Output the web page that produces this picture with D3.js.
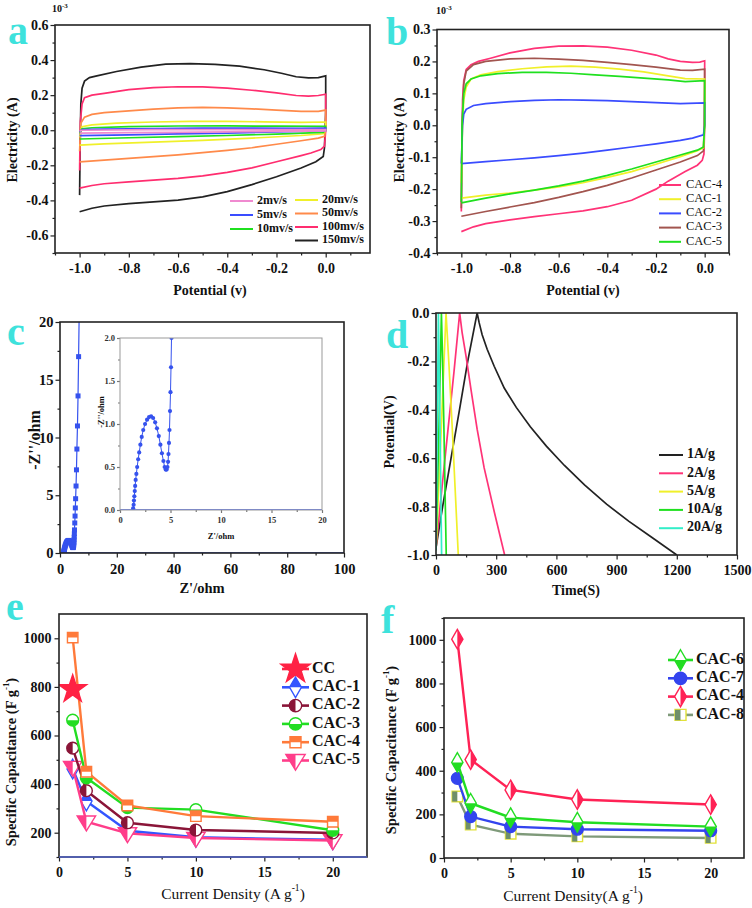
<!DOCTYPE html>
<html>
<head>
<meta charset="utf-8">
<script src="https://cdn.jsdelivr.net/npm/d3@7"></script>
<style>
  body { margin: 0; background: #fff; }
  svg { display: block; }
  text { font-family: "Liberation Serif", "Times New Roman", serif; }
</style>
</head>
<body>
<svg id="fig" width="752" height="908"></svg>
<script>
// ---------- panel a: CV curves at different scan rates (current, 1e-3 A)
const scanLabels = ["2mv/s", "5mv/s", "10mv/s", "20mv/s", "50mv/s", "100mv/s", "150mv/s"];
const scanColors = ["#f08ad0", "#3a4cff", "#1fe01f", "#f0f02a", "#ff8a4a", "#ff2d6f", "#222222"];
const cv2 = [[-1.0,-0.005],[-0.99,0.0],[-0.7,0.003],[-0.4,0.004],[-0.1,0.003],[0.0,0.004],[0.0,-0.004],[-0.3,-0.008],[-0.6,-0.012],[-0.8,-0.014],[-1.0,-0.017]];
const cv5 = [[-1.0,-0.01],[-0.99,0.003],[-0.9,0.006],[-0.7,0.01],[-0.5,0.012],[-0.3,0.012],[-0.1,0.011],[0.0,0.012],[0.0,-0.002],[-0.2,-0.01],[-0.4,-0.016],[-0.6,-0.021],[-0.8,-0.026],[-1.0,-0.031]];
const cv10 = [[-1.0,-0.02],[-0.99,0.008],[-0.95,0.014],[-0.8,0.02],[-0.6,0.024],[-0.4,0.025],[-0.2,0.023],[0.0,0.022],[0.0,0.0],[-0.01,-0.012],[-0.2,-0.022],[-0.4,-0.03],[-0.6,-0.037],[-0.8,-0.043],[-1.0,-0.05]];
const cv20 = [[-1.0,-0.04],[-0.99,0.02],[-0.95,0.03],[-0.85,0.04],[-0.7,0.047],[-0.55,0.05],[-0.4,0.05],[-0.25,0.048],[-0.1,0.045],[0.0,0.047],[0.0,0.0],[-0.01,-0.02],[-0.1,-0.03],[-0.3,-0.045],[-0.5,-0.058],[-0.7,-0.068],[-0.9,-0.078],[-1.0,-0.085]];
const cv50 = [[-1.0,-0.12],[-0.995,0.04],[-0.98,0.075],[-0.95,0.09],[-0.9,0.1],[-0.8,0.11],[-0.7,0.12],[-0.6,0.128],[-0.5,0.13],[-0.4,0.128],[-0.3,0.122],[-0.2,0.115],[-0.1,0.108],[-0.03,0.108],[0.0,0.115],[0.0,0.0],[-0.005,-0.035],[-0.03,-0.045],[-0.1,-0.06],[-0.2,-0.08],[-0.3,-0.1],[-0.4,-0.115],[-0.5,-0.128],[-0.6,-0.14],[-0.7,-0.15],[-0.8,-0.16],[-0.9,-0.17],[-1.0,-0.18]];
const cv100 = [[-1.0,-0.23],[-0.997,0.05],[-0.99,0.15],[-0.98,0.185],[-0.95,0.2],[-0.9,0.21],[-0.8,0.232],[-0.7,0.243],[-0.6,0.248],[-0.5,0.247],[-0.4,0.24],[-0.3,0.228],[-0.2,0.213],[-0.12,0.198],[-0.07,0.195],[-0.03,0.198],[0.0,0.205],[0.0,0.0],[-0.005,-0.09],[-0.02,-0.11],[-0.06,-0.13],[-0.1,-0.145],[-0.2,-0.18],[-0.3,-0.215],[-0.4,-0.24],[-0.5,-0.26],[-0.6,-0.275],[-0.7,-0.285],[-0.8,-0.295],[-0.9,-0.305],[-0.95,-0.315],[-1.0,-0.33]];
const cv150 = [[-1.0,-0.37],[-0.998,-0.1],[-0.995,0.15],[-0.99,0.24],[-0.98,0.28],[-0.96,0.3],[-0.93,0.31],[-0.85,0.335],[-0.75,0.36],[-0.65,0.377],[-0.55,0.38],[-0.45,0.375],[-0.35,0.365],[-0.25,0.345],[-0.18,0.325],[-0.12,0.305],[-0.07,0.298],[-0.03,0.3],[0.0,0.31],[0.0,0.1],[-0.005,-0.1],[-0.01,-0.15],[-0.04,-0.18],[-0.1,-0.215],[-0.2,-0.265],[-0.3,-0.31],[-0.4,-0.35],[-0.5,-0.38],[-0.6,-0.398],[-0.7,-0.408],[-0.8,-0.418],[-0.9,-0.432],[-0.95,-0.445],[-1.0,-0.465]];
const potentialMajor = [-1.0, -0.8, -0.6, -0.4, -0.2, 0.0];
const potentialMinor = [-1.1, -0.9, -0.7, -0.5, -0.3, -0.1, 0.1];
const currentMajorA = [-0.6, -0.4, -0.2, 0.0, 0.2, 0.4, 0.6];
const currentMinorA = [-0.7, -0.5, -0.3, -0.1, 0.1, 0.3, 0.5];

// ---------- panel b: CV curves of the samples
const sampleCvLabels = ["CAC-4", "CAC-1", "CAC-2", "CAC-3", "CAC-5"];
const sampleCvColors = ["#ff3377", "#f0f02a", "#3a4cff", "#a2554f", "#1fe01f"];
const cvCac4 = [[-1.0,-0.27],[-0.998,-0.1],[-0.995,0.08],[-0.99,0.14],[-0.98,0.175],[-0.96,0.19],[-0.93,0.2],[-0.88,0.21],[-0.8,0.227],[-0.7,0.241],[-0.6,0.248],[-0.5,0.249],[-0.4,0.245],[-0.3,0.235],[-0.2,0.22],[-0.15,0.208],[-0.1,0.2],[-0.05,0.197],[-0.02,0.198],[0.0,0.202],[0.0,0.0],[-0.003,-0.09],[-0.01,-0.11],[-0.03,-0.125],[-0.08,-0.145],[-0.15,-0.175],[-0.2,-0.2],[-0.3,-0.235],[-0.4,-0.255],[-0.5,-0.268],[-0.6,-0.277],[-0.7,-0.286],[-0.8,-0.296],[-0.9,-0.308],[-0.95,-0.318],[-1.0,-0.333]];
const cvCac1 = [[-1.0,-0.18],[-0.995,0.0],[-0.99,0.08],[-0.98,0.12],[-0.96,0.145],[-0.92,0.158],[-0.85,0.168],[-0.75,0.177],[-0.65,0.183],[-0.55,0.185],[-0.45,0.182],[-0.35,0.176],[-0.25,0.167],[-0.15,0.155],[-0.08,0.146],[0.0,0.145],[0.0,0.0],[-0.005,-0.07],[-0.03,-0.08],[-0.1,-0.098],[-0.2,-0.122],[-0.3,-0.145],[-0.4,-0.163],[-0.5,-0.18],[-0.6,-0.193],[-0.7,-0.203],[-0.8,-0.212],[-0.9,-0.219],[-1.0,-0.228]];
const cvCac2 = [[-1.0,-0.12],[-0.995,0.0],[-0.99,0.035],[-0.98,0.05],[-0.95,0.062],[-0.9,0.068],[-0.8,0.074],[-0.7,0.078],[-0.6,0.08],[-0.5,0.079],[-0.4,0.077],[-0.3,0.074],[-0.2,0.071],[-0.1,0.068],[0.0,0.07],[0.0,0.0],[-0.005,-0.03],[-0.05,-0.04],[-0.1,-0.047],[-0.2,-0.058],[-0.3,-0.068],[-0.4,-0.078],[-0.5,-0.087],[-0.6,-0.095],[-0.7,-0.102],[-0.8,-0.108],[-0.9,-0.114],[-1.0,-0.12]];
const cvCac3 = [[-1.0,-0.26],[-0.997,0.0],[-0.99,0.13],[-0.98,0.17],[-0.95,0.19],[-0.9,0.2],[-0.8,0.208],[-0.7,0.21],[-0.6,0.207],[-0.5,0.203],[-0.4,0.197],[-0.3,0.19],[-0.2,0.182],[-0.1,0.173],[-0.05,0.172],[0.0,0.176],[0.0,0.14],[-0.002,0.0],[-0.005,-0.08],[-0.03,-0.095],[-0.1,-0.115],[-0.2,-0.14],[-0.3,-0.165],[-0.4,-0.188],[-0.5,-0.208],[-0.6,-0.226],[-0.7,-0.242],[-0.8,-0.256],[-0.9,-0.27],[-1.0,-0.285]];
const cvCac5 = [[-1.0,-0.24],[-0.997,0.0],[-0.99,0.1],[-0.98,0.13],[-0.96,0.145],[-0.92,0.155],[-0.85,0.162],[-0.75,0.166],[-0.65,0.166],[-0.55,0.163],[-0.45,0.158],[-0.35,0.153],[-0.25,0.148],[-0.15,0.142],[-0.08,0.137],[0.0,0.14],[0.0,0.0],[-0.005,-0.068],[-0.03,-0.078],[-0.1,-0.093],[-0.2,-0.115],[-0.3,-0.137],[-0.4,-0.157],[-0.5,-0.175],[-0.6,-0.19],[-0.7,-0.203],[-0.8,-0.215],[-0.9,-0.228],[-1.0,-0.243]];
const currentMajorB = [-0.4, -0.3, -0.2, -0.1, 0.0, 0.1, 0.2, 0.3];
const currentMinorB = [-0.35, -0.25, -0.15, -0.05, 0.05, 0.15, 0.25];

// ---------- panel c: Nyquist plot (Z', -Z'')
const nyquist = [[1.3,0.02],[1.35,0.06],[1.38,0.11],[1.42,0.16],[1.46,0.22],[1.5,0.28],[1.55,0.35],[1.62,0.42],[1.7,0.5],[1.8,0.59],[1.9,0.67],[2.02,0.76],[2.15,0.85],[2.3,0.93],[2.48,1.0],[2.68,1.05],[2.88,1.08],[3.08,1.09],[3.28,1.07],[3.48,1.02],[3.66,0.95],[3.84,0.86],[4.0,0.76],[4.15,0.66],[4.3,0.57],[4.42,0.5],[4.52,0.47],[4.62,0.47],[4.7,0.5],[4.76,0.56],[4.8,0.65],[4.85,0.78],[4.9,0.93],[4.95,1.15],[5.0,1.37],[5.05,1.66],[5.1,2.0],[5.2,2.6],[5.3,3.2],[5.4,3.9],[5.5,4.7],[5.65,5.8],[5.8,7.2],[5.95,9.0],[6.15,11.0],[6.35,13.6],[6.55,17.0],[6.75,20.6]];
const zReMajor = [0, 20, 40, 60, 80, 100];
const zReMinor = [10, 30, 50, 70, 90];
const zImMajor = [0, 5, 10, 15, 20];
const zImMinor = [2.5, 7.5, 12.5, 17.5];
const insetReMajor = [0, 5, 10, 15, 20];
const insetReMinor = [2.5, 7.5, 12.5, 17.5];
const insetImMajor = [0.0, 0.5, 1.0, 1.5, 2.0];
const insetImMinor = [0.25, 0.75, 1.25, 1.75];

// ---------- panel d: galvanostatic charge/discharge (time s, potential V)
const gcdLabels = ["1A/g", "2A/g", "5A/g", "10A/g", "20A/g"];
const gcdColors = ["#222222", "#ff3377", "#f0f02a", "#1fe01f", "#33eec8"];
const gcd1 = [[0,-0.97],[33,-0.8],[75,-0.6],[117,-0.4],[158,-0.2],[205,0],[215,-0.04],[230,-0.09],[255,-0.15],[290,-0.22],[340,-0.31],[400,-0.39],[470,-0.47],[550,-0.55],[640,-0.63],[740,-0.71],[850,-0.79],[960,-0.86],[1080,-0.93],[1200,-1.0]];
const gcd2 = [[0,-0.97],[30,-0.72],[60,-0.48],[90,-0.24],[118,0],[130,-0.08],[150,-0.18],[175,-0.32],[205,-0.48],[240,-0.64],[290,-0.82],[342,-1.0]];
const gcd5 = [[0,-0.98],[25,-0.5],[50,0],[65,-0.22],[80,-0.46],[95,-0.72],[111,-1.0]];
const gcd10 = [[0,-0.98],[14,-0.5],[27,0],[33,-0.2],[40,-0.5],[51,-1.0]];
const gcd20 = [[0,-0.98],[6,-0.5],[12,0],[17,-0.3],[22,-0.6],[28,-1.0]];
const timeMajor = [0, 300, 600, 900, 1200, 1500];
const timeMinor = [150, 450, 750, 1050, 1350];
const voltMajor = [-1.0, -0.8, -0.6, -0.4, -0.2, 0.0];
const voltMinor = [-0.9, -0.7, -0.5, -0.3, -0.1];

// ---------- panels e, f: specific capacitance vs current density
const densities = [1, 2, 5, 10, 20];
const capCC = [790];
const capCac1 = [462, 330, 208, 181, 171];
const capCac2 = [548, 373, 241, 211, 199];
const capCac3 = [663, 426, 303, 295, 210];
const capCac4 = [1003, 451, 312, 268, 245];
const capCac5 = [470, 245, 197, 178, 168];
const capCac6 = [438, 251, 185, 164, 144];
const capCac7 = [365, 190, 144, 132, 125];
const capCac8 = [282, 153, 111, 99, 92];
const densityMajor = [0, 5, 10, 15, 20];
const densityMinor = [2.5, 7.5, 12.5, 17.5];
const capMajorE = [200, 400, 600, 800, 1000];
const capMinorE = [100, 300, 500, 700, 900];
const capMajorF = [0, 200, 400, 600, 800, 1000];
const capMinorF = [100, 300, 500, 700, 900, 1100];

const INK = "#222";
const LETTER = "#3ee2dc";
const SERIF = '"Liberation Serif", "Times New Roman", serif';

const svg = d3.select("#fig");
const defs = svg.append("defs");
[["top", 0, 0, 1, 0.5], ["bottom", 0, 0.5, 1, 0.5], ["left", 0, 0, 0.5, 1], ["right", 0.5, 0, 0.5, 1]]
    .forEach(([name, x, y, w, h]) => defs.append("clipPath")
        .attr("id", `half-${name}`)
        .attr("clipPathUnits", "objectBoundingBox")
        .append("rect").attr("x", x).attr("y", y).attr("width", w).attr("height", h));

const triangleDown = {
    draw(ctx, size) {
        const r = Math.sqrt(size / 1.3);
        ctx.moveTo(-r, -r * 0.62);
        ctx.lineTo(r, -r * 0.62);
        ctx.lineTo(0, r);
        ctx.closePath();
    }
};

// frame + scales + clipped plotting group
function makePanel(id, { left, right, top, bottom, xDomain, yDomain }) {
    const x = d3.scaleLinear().domain(xDomain).range([left, right]);
    const y = d3.scaleLinear().domain(yDomain).range([bottom, top]);
    const g = svg.append("g").attr("class", id);
    defs.append("clipPath").attr("id", `clip-${id}`)
        .append("rect").attr("x", left).attr("y", top)
        .attr("width", right - left).attr("height", bottom - top);
    const plot = g.append("g").attr("clip-path", `url(#clip-${id})`);
    return { g, plot, x, y, left, right, top, bottom };
}

function drawAxes(p, o) {
    const { g, x, y, left, right, top, bottom } = p;
    const size = o.size || 14;
    const tickColor = o.tickColor || INK;
    const style = sel => {
        sel.select(".domain").remove();
        sel.selectAll("line").attr("stroke", tickColor).attr("stroke-width", o.tickWidth || 1.2);
        sel.selectAll("text")
            .attr("fill", o.textColor || "#111")
            .style("font-family", SERIF)
            .style("font-size", `${size}px`)
            .style("font-weight", "bold");
    };
    const major = o.major || 4.5, minor = o.minor || 2.5;
    g.append("g").attr("transform", `translate(0,${bottom})`)
        .call(d3.axisBottom(x).tickValues(o.xMinor).tickFormat("").tickSize(minor)).call(style);
    g.append("g").attr("transform", `translate(0,${bottom})`)
        .call(d3.axisBottom(x).tickValues(o.xMajor).tickFormat(o.xFmt).tickSize(major).tickPadding(o.xPad || 6)).call(style);
    g.append("g").attr("transform", `translate(${left},0)`)
        .call(d3.axisLeft(y).tickValues(o.yMinor).tickFormat("").tickSize(minor)).call(style);
    g.append("g").attr("transform", `translate(${left},0)`)
        .call(d3.axisLeft(y).tickValues(o.yMajor).tickFormat(o.yFmt).tickSize(major).tickPadding(o.yPad || 2)).call(style);
    g.append("rect")
        .attr("x", left).attr("y", top).attr("width", right - left).attr("height", bottom - top)
        .attr("fill", "none").attr("stroke", o.frameColor || INK).attr("stroke-width", o.frameWidth || 1.6);
}

function title(parent, txt, x, y, { size = 14, weight = "bold", rotate = false, sup = null, tail = null } = {}) {
    const t = parent.append("text")
        .attr("transform", rotate ? `translate(${x},${y}) rotate(-90)` : `translate(${x},${y})`)
        .attr("text-anchor", "middle")
        .attr("dominant-baseline", "middle")
        .attr("fill", "#111")
        .style("font-family", SERIF)
        .style("font-size", `${size}px`)
        .style("font-weight", weight);
    t.append("tspan").text(txt);
    if (sup) {
        t.append("tspan").attr("dy", -size * 0.4).style("font-size", `${size * 0.62}px`).text(sup);
        t.append("tspan").attr("dy", size * 0.4).text(tail);
    }
    return t;
}

function letter(txt, x, y) {
    svg.append("text").attr("x", x).attr("y", y)
        .attr("fill", LETTER)
        .style("font-family", SERIF).style("font-size", "40px").style("font-weight", "bold")
        .text(txt);
}

function exponent(x, y) {
    const t = svg.append("text").attr("x", x).attr("y", y).attr("fill", "#111")
        .style("font-family", SERIF).style("font-size", "10px").style("font-weight", "bold");
    t.append("tspan").text("10");
    t.append("tspan").attr("dy", -4).style("font-size", "7px").text("-3");
}

function marker(sel, spec, size) {
    const d = d3.symbol().type(spec.shape).size(size)();
    sel.append("path").attr("d", d)
        .attr("fill", spec.half === "full" ? spec.color : "#fff")
        .attr("stroke", spec.edge || spec.color).attr("stroke-width", 1.4);
    if (spec.half !== "full") {
        sel.append("path").attr("d", d).attr("fill", spec.color)
            .attr("clip-path", `url(#half-${spec.half})`);
    }
}

function lineLegend(parent, labels, colors, { x, y, dy, len, gap, size, weight, width = 2 }) {
    labels.forEach((lab, i) => {
        const yy = y + i * dy;
        parent.append("line").attr("x1", x).attr("x2", x + len).attr("y1", yy).attr("y2", yy)
            .attr("stroke", colors[i]).attr("stroke-width", width);
        parent.append("text").attr("x", x + len + gap).attr("y", yy)
            .attr("dominant-baseline", "middle").attr("fill", "#111")
            .style("font-family", SERIF).style("font-size", `${size}px`).style("font-weight", weight)
            .text(lab);
    });
}

const fmt1 = d => d.toFixed(1);
const fmt0 = d => String(d);
const lineXY = (p) => d3.line().x(d => p.x(d[0])).y(d => p.y(d[1]));

// ======================= a =======================
{
    const p = makePanel("a", { left: 55, right: 370, top: 25, bottom: 253, xDomain: [-1.1, 0.18], yDomain: [-0.7, 0.6] });
    const curves = [cv150, cv100, cv50, cv20, cv10, cv5, cv2];
    const colors = [6, 5, 4, 3, 2, 1, 0].map(i => scanColors[i]);
    p.plot.selectAll("path.cv").data(curves).join("path")
        .attr("class", "cv").attr("d", lineXY(p))
        .attr("fill", "none").attr("stroke", (d, i) => colors[i]).attr("stroke-width", 1.7);
    drawAxes(p, { xMajor: potentialMajor, xMinor: potentialMinor, yMajor: currentMajorA, yMinor: currentMinorA, xFmt: fmt1, yFmt: fmt1 });
    lineLegend(p.g, scanLabels.slice(0, 3), scanColors.slice(0, 3), { x: 230, y: 201, dy: 14, len: 23, gap: 4, size: 12, weight: "bold" });
    lineLegend(p.g, scanLabels.slice(3), scanColors.slice(3), { x: 295, y: 200, dy: 13.5, len: 23, gap: 4, size: 12, weight: "bold" });
    title(p.g, "Potential (v)", 210, 292);
    title(p.g, "Electricity (A)", 14, 140, { rotate: true });
    exponent(52, 12);
    letter("a", 8, 44);
}

// ======================= b =======================
{
    const p = makePanel("b", { left: 437, right: 729, top: 29.5, bottom: 253, xDomain: [-1.1, 0.1], yDomain: [-0.4, 0.3] });
    const curves = [cvCac4, cvCac3, cvCac1, cvCac2, cvCac5];
    const colors = [0, 3, 1, 2, 4].map(i => sampleCvColors[i]);
    p.plot.selectAll("path.cv").data(curves).join("path")
        .attr("class", "cv").attr("d", lineXY(p))
        .attr("fill", "none").attr("stroke", (d, i) => colors[i]).attr("stroke-width", 1.7);
    drawAxes(p, { xMajor: potentialMajor, xMinor: potentialMinor, yMajor: currentMajorB, yMinor: currentMinorB, xFmt: fmt1, yFmt: fmt1 });
    lineLegend(p.g, sampleCvLabels, sampleCvColors, { x: 659, y: 185, dy: 14.2, len: 22, gap: 5, size: 12.5, weight: "normal" });
    title(p.g, "Potential (v)", 583, 292);
    title(p.g, "Electricity (A)", 401, 140, { rotate: true });
    exponent(436, 14);
    letter("b", 386, 45);
}

// ======================= c =======================
{
    const blue = "#3552ee";
    const p = makePanel("c", { left: 60, right: 344, top: 322, bottom: 553, xDomain: [0, 100], yDomain: [0, 20] });
    p.plot.append("path").datum([[0, 0], [100, 0]]).attr("d", lineXY(p))
        .attr("stroke", blue).attr("stroke-width", 1.5).attr("fill", "none");
    p.plot.append("path").datum(nyquist).attr("d", lineXY(p))
        .attr("stroke", blue).attr("stroke-width", 1.2).attr("fill", "none");
    p.plot.selectAll("rect.pt").data(nyquist).join("rect")
        .attr("class", "pt")
        .attr("x", d => p.x(d[0]) - 2.5).attr("y", d => p.y(d[1]) - 2.5)
        .attr("width", 5).attr("height", 5).attr("fill", blue);
    drawAxes(p, { xMajor: zReMajor, xMinor: zReMinor, yMajor: zImMajor, yMinor: zImMinor, xFmt: fmt0, yFmt: fmt0, size: 14.5 });
    title(p.g, "Z'/ohm", 202, 590, { size: 14.5 });
    title(p.g, "-Z''/ohm", 36, 440, { size: 16, rotate: true });

    const q = makePanel("c-inset", { left: 120, right: 322, top: 338, bottom: 510, xDomain: [0, 20], yDomain: [0, 2] });
    q.plot.append("path").datum([[0, 0], [20, 0]]).attr("d", lineXY(q))
        .attr("stroke", blue).attr("stroke-width", 1.4).attr("fill", "none");
    q.plot.append("path").datum(nyquist).attr("d", lineXY(q))
        .attr("stroke", blue).attr("stroke-width", 1).attr("fill", "none");
    q.plot.selectAll("circle.pt").data(nyquist).join("circle")
        .attr("class", "pt").attr("cx", d => q.x(d[0])).attr("cy", d => q.y(d[1]))
        .attr("r", 2.1).attr("fill", blue);
    drawAxes(q, {
        xMajor: insetReMajor, xMinor: insetReMinor, yMajor: insetImMajor, yMinor: insetImMinor,
        xFmt: fmt0, yFmt: fmt1, size: 8.5, major: 3, minor: 2, xPad: 4, yPad: 2,
        tickColor: "#777", frameColor: "#999", frameWidth: 1, textColor: "#333"
    });
    title(q.g, "Z'/ohm", 221, 537, { size: 8.5 });
    title(q.g, "-Z''/ohm", 102, 412, { size: 8.5, rotate: true });
    letter("c", 7, 345);
}

// ======================= d =======================
{
    const p = makePanel("d", { left: 436, right: 737, top: 313, bottom: 555, xDomain: [0, 1500], yDomain: [-1, 0] });
    const curves = [gcd1, gcd2, gcd5, gcd10, gcd20];
    p.plot.selectAll("path.gcd").data(curves).join("path")
        .attr("class", "gcd").attr("d", lineXY(p))
        .attr("fill", "none").attr("stroke", (d, i) => gcdColors[i]).attr("stroke-width", 1.7);
    drawAxes(p, { xMajor: timeMajor, xMinor: timeMinor, yMajor: voltMajor, yMinor: voltMinor, xFmt: fmt0, yFmt: fmt1 });
    lineLegend(p.g, gcdLabels, gcdColors, { x: 659, y: 455, dy: 18.3, len: 24, gap: 4, size: 14, weight: "bold" });
    title(p.g, "Time(S)", 576, 592);
    title(p.g, "Potential(V)", 391, 432, { rotate: true });
    letter("d", 386, 348);
}

// ======================= e / f =======================
function capPanel(id, frameBox, yDomain, yMajor, yMinor, series, legend, titles) {
    const p = makePanel(id, { ...frameBox, xDomain: [0, 22.5], yDomain });
    series.forEach(s => {
        const pts = s.values.map((v, i) => [densities[i], v]);
        p.plot.append("path").datum(pts).attr("d", lineXY(p))
            .attr("fill", "none").attr("stroke", s.line || s.color).attr("stroke-width", 2.4);
        pts.forEach(d => {
            const m = p.plot.append("g").attr("transform", `translate(${p.x(d[0])},${p.y(d[1])})`);
            marker(m, s, s.size || 110);
        });
    });
    drawAxes(p, { xMajor: densityMajor, xMinor: densityMinor, yMajor, yMinor, xFmt: fmt0, yFmt: fmt0, xPad: 6, yPad: 3,
        frameColor: INK });
    legend.order.forEach((k, i) => {
        const s = series.find(t => t.name === k);
        const yy = legend.y + i * legend.dy;
        p.g.append("line").attr("x1", legend.x).attr("x2", legend.x + legend.len).attr("y1", yy).attr("y2", yy)
            .attr("stroke", s.line || s.color).attr("stroke-width", 2.6);
        marker(p.g.append("g").attr("transform", `translate(${legend.x + legend.len / 2},${yy})`), s, (s.size || 110) * 1.1);
        p.g.append("text").attr("x", legend.x + legend.len + 3).attr("y", yy)
            .attr("dominant-baseline", "middle").attr("fill", "#111")
            .style("font-family", SERIF).style("font-size", "16px").style("font-weight", "bold")
            .text(k);
    });
    title(p.g, titles.x, titles.xPos[0], titles.xPos[1], { size: 15.5, weight: "normal", sup: "-1", tail: ")" });
    title(p.g, "Specific Capacitance (F g", titles.yPos[0], titles.yPos[1], { size: 14.5, rotate: true, sup: "-1", tail: ")" });
    return p;
}

{
    const series = [
        { name: "CAC-1", values: capCac1, color: "#3355ff", shape: d3.symbolDiamond, half: "top" },
        { name: "CAC-5", values: capCac5, color: "#ff3d8a", shape: triangleDown, half: "left" },
        { name: "CAC-2", values: capCac2, color: "#8a1538", shape: d3.symbolCircle, half: "left" },
        { name: "CAC-3", values: capCac3, color: "#22dd22", shape: d3.symbolCircle, half: "bottom" },
        { name: "CAC-4", values: capCac4, color: "#ff7a3a", shape: d3.symbolSquare, half: "top" },
        { name: "CC", values: capCC, color: "#ff2244", shape: d3.symbolStar, half: "full", size: 240 }
    ];
    const p = capPanel("e", { left: 59, right: 367, top: 614, bottom: 857 }, [100, 1100], capMajorE, capMinorE, series,
        { order: ["CC", "CAC-1", "CAC-2", "CAC-3", "CAC-4", "CAC-5"], x: 282, y: 669, dy: 18.3, len: 27 },
        { x: "Current Density (A g", xPos: [233, 895], yPos: [13, 762] });
    p.g.append("line").attr("x1", p.left).attr("x2", p.right).attr("y1", p.bottom).attr("y2", p.bottom)
        .attr("stroke", "#5566cc").attr("stroke-width", 1.6);
    letter("e", 6, 620);
}

{
    const series = [
        { name: "CAC-8", values: capCac8, color: "#6f8f6a", edge: "#e2e23a", line: "#7f9a7a", shape: d3.symbolSquare, half: "left" },
        { name: "CAC-7", values: capCac7, color: "#3344ee", shape: d3.symbolCircle, half: "full" },
        { name: "CAC-6", values: capCac6, color: "#22dd22", shape: d3.symbolDiamond, half: "bottom" },
        { name: "CAC-4", values: capCac4, color: "#ff2255", shape: d3.symbolDiamond, half: "right" }
    ];
    capPanel("f", { left: 444, right: 744, top: 618, bottom: 858 }, [0, 1100], capMajorF, capMinorF, series,
        { order: ["CAC-6", "CAC-7", "CAC-4", "CAC-8"], x: 668, y: 660, dy: 18.3, len: 25 },
        { x: "Current Density(A g", xPos: [573, 897], yPos: [393, 750] });
    letter("f", 381, 633);
}
</script>
</body>
</html>
